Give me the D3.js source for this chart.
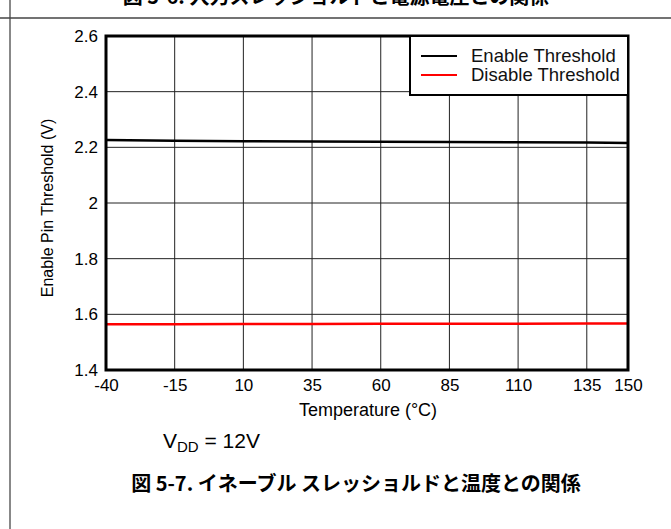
<!DOCTYPE html>
<html><head><meta charset="utf-8">
<script src="https://cdn.jsdelivr.net/npm/d3@7"></script>
<style>body{margin:0;background:#fff}svg{display:block}</style>
</head><body>
<svg id="c" width="671" height="529"></svg>
<script>
const temps = [-40, -15, 10, 35, 60, 85, 110, 135, 150];
const enableThreshold = [2.226, 2.224, 2.222, 2.221, 2.220, 2.219, 2.218, 2.217, 2.216];
const disableThreshold = [1.564, 1.564, 1.565, 1.565, 1.566, 1.566, 1.566, 1.567, 1.567];
const xTicks = [-40, -15, 10, 35, 60, 85, 110, 135, 150];
const yTicks = [1.4, 1.6, 1.8, 2, 2.2, 2.4, 2.6];
const seriesNames = ["Enable Threshold", "Disable Threshold"];
const seriesColors = ["#000000", "#ff0000"];

const svg = d3.select("#c");
const font = "'Liberation Sans', Arial, sans-serif";
const cjk = "'Noto Sans CJK JP', sans-serif";
const L = 106, R = 628, T = 36, B = 370;
const x = d3.scaleLinear().domain([-40, 150]).range([L, R]);
const y = d3.scaleLinear().domain([1.4, 2.6]).range([B, T]);

// page frame
svg.append("line").attr("x1", 10).attr("x2", 10).attr("y1", 0).attr("y2", 529)
  .attr("stroke", "#888").attr("stroke-width", 2);
svg.append("line").attr("x1", 0).attr("x2", 671).attr("y1", 18).attr("y2", 18)
  .attr("stroke", "#444").attr("stroke-width", 1.5);

// previous caption, cut off at the top as in the source page
svg.append("text").attr("x", 336).attr("y", 4).attr("text-anchor", "middle")
  .attr("font-family", cjk).attr("font-weight", "bold").attr("font-size", 20)
  .text("図 5-6. 入力スレッショルドと電源電圧との関係");

// gridlines
svg.append("g").selectAll("line").data(xTicks.slice(1, -1)).join("line")
  .attr("x1", d => x(d)).attr("x2", d => x(d)).attr("y1", T).attr("y2", B)
  .attr("stroke", "#222").attr("stroke-width", 1);
svg.append("g").selectAll("line").data(yTicks.slice(1, -1)).join("line")
  .attr("y1", d => y(d)).attr("y2", d => y(d)).attr("x1", L).attr("x2", R)
  .attr("stroke", "#222").attr("stroke-width", 1);

// axes (labels only)
const xAxis = svg.append("g").attr("transform", `translate(0,${B})`)
  .call(d3.axisBottom(x).tickValues(xTicks).tickSize(0).tickPadding(9).tickFormat(d => String(d)));
xAxis.select(".domain").remove();
xAxis.selectAll("text").attr("font-family", font).attr("font-size", 17).attr("fill", "#000");
const yAxis = svg.append("g").attr("transform", `translate(${L},0)`)
  .call(d3.axisLeft(y).tickValues(yTicks).tickSize(0).tickPadding(8).tickFormat(d => String(+d.toFixed(1))));
yAxis.select(".domain").remove();
yAxis.selectAll("text").attr("font-family", font).attr("font-size", 17).attr("fill", "#000");

// series
const line = d3.line().x((d, i) => x(temps[i])).y(d => y(d));
[enableThreshold, disableThreshold].forEach((s, i) => {
  svg.append("path").attr("d", line(s)).attr("fill", "none")
    .attr("stroke", seriesColors[i]).attr("stroke-width", 2.5);
});

// plot border
svg.append("rect").attr("x", L).attr("y", T).attr("width", R - L).attr("height", B - T)
  .attr("fill", "none").attr("stroke", "#000").attr("stroke-width", 3);

// legend
const lg = svg.append("g");
lg.append("rect").attr("x", 410).attr("y", T).attr("width", R - 410).attr("height", 59)
  .attr("fill", "#fff").attr("stroke", "#000").attr("stroke-width", 2);
seriesNames.forEach((n, i) => {
  const yy = 56 + i * 19;
  lg.append("line").attr("x1", 421).attr("x2", 457).attr("y1", yy).attr("y2", yy)
    .attr("stroke", seriesColors[i]).attr("stroke-width", 2);
  lg.append("text").attr("x", 471).attr("y", yy + 6).attr("font-family", font)
    .attr("font-size", 18.5).attr("fill", "#111").text(n);
});

// axis titles
svg.append("text").attr("x", 368).attr("y", 416).attr("text-anchor", "middle")
  .attr("font-family", font).attr("font-size", 18).text("Temperature (°C)");
svg.append("text").attr("transform", "translate(53,208) rotate(-90)").attr("text-anchor", "middle")
  .attr("font-family", font).attr("font-size", 16).text("Enable Pin Threshold (V)");

// condition note
const vt = svg.append("text").attr("x", 163).attr("y", 448).attr("font-family", font).attr("font-size", 21);
vt.append("tspan").text("V");
vt.append("tspan").attr("font-size", 15).attr("dy", 4).text("DD");
vt.append("tspan").attr("dy", -4).text(" = 12V");

// caption
svg.append("text").attr("x", 356).attr("y", 491).attr("text-anchor", "middle")
  .attr("font-family", cjk).attr("font-weight", "bold").attr("font-size", 20)
  .text("図 5-7. イネーブル スレッショルドと温度との関係");
</script>
</body></html>
